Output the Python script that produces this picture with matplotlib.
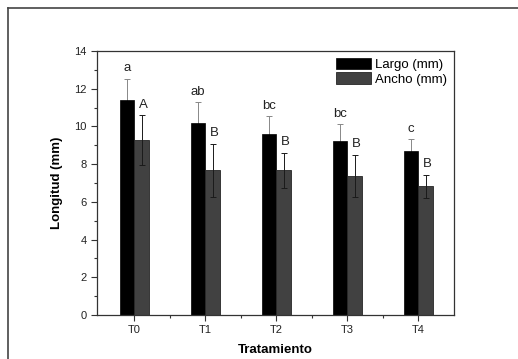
import matplotlib
matplotlib.use("Agg")
import matplotlib.pyplot as plt
from matplotlib.ticker import MultipleLocator
import numpy as np

# Figure size in inches (100 dpi -> 518x359 px)
PLOT_SIZE_X = 5.18
PLOT_SIZE_Y = 3.59

plt.rcParams['font.family'] = ['Liberation Sans', 'DejaVu Sans']

# Data
treatments = ["T0", "T1", "T2", "T3", "T4"]
largo_mm = [11.38, 10.16, 9.62, 9.23, 8.71]
largo_err = [1.15, 1.12, 0.92, 0.88, 0.61]
ancho_mm = [9.28, 7.68, 7.67, 7.38, 6.82]
ancho_err = [1.31, 1.40, 0.92, 1.13, 0.62]
largo_letters = ["a", "ab", "bc", "bc", "c"]
ancho_letters = ["A", "B", "B", "B", "B"]

BAR_W = 0.205
AXIS_COLOR = '#333333'

fig = plt.figure(figsize=(PLOT_SIZE_X, PLOT_SIZE_Y), dpi=100)
ax = fig.add_axes([0.187, 0.1226, 0.689, 0.7354])

x = np.arange(len(treatments))

# Largo bars (black) and Ancho bars (dark grey)
ax.bar(x - BAR_W / 2, largo_mm, BAR_W, color='black', edgecolor='black',
       linewidth=0.5, label="Largo (mm)", zorder=2)
ax.bar(x + BAR_W / 2, ancho_mm, BAR_W, color='#414141', edgecolor='#262626',
       linewidth=0.6, label="Ancho (mm)", zorder=2)

# error bars (Largo ones sit behind the black bars, only the upper part shows)
ax.errorbar(x - BAR_W / 2, largo_mm, yerr=largo_err, fmt='none',
            ecolor='#888888', elinewidth=0.7, capsize=2.3, capthick=0.7, zorder=1)
ax.errorbar(x + BAR_W / 2, ancho_mm, yerr=ancho_err, fmt='none',
            ecolor='#1a1a1a', elinewidth=0.7, capsize=2.3, capthick=0.7, zorder=3)

# significance letters
for i in range(len(treatments)):
    ax.text(x[i] - BAR_W / 2, largo_mm[i] + largo_err[i] + 0.25, largo_letters[i],
            ha='center', va='bottom', fontsize=9.5, color='#222222')
    ax.text(x[i] + BAR_W / 2 + 0.02, ancho_mm[i] + ancho_err[i] + 0.25, ancho_letters[i],
            ha='center', va='bottom', fontsize=9.5, color='#222222')

ax.set_xlim(-0.53, 4.5)
ax.set_ylim(0, 14)
ax.set_xticks(x)
ax.set_xticklabels(treatments)
ax.set_xticks(x[:-1] + 0.5, minor=True)
ax.yaxis.set_major_locator(MultipleLocator(2))
ax.yaxis.set_minor_locator(MultipleLocator(1))

ax.tick_params(which='major', direction='out', length=4, width=0.8,
               colors=AXIS_COLOR, labelsize=8, labelcolor='#222222')
ax.tick_params(which='minor', direction='out', length=2.5, width=0.8,
               colors=AXIS_COLOR)
ax.tick_params(axis='x', which='major', pad=3)

for s in ax.spines.values():
    s.set_color(AXIS_COLOR)
    s.set_linewidth(0.9)

ax.set_xlabel("Tratamiento", fontsize=9.5, fontweight='bold', labelpad=7)
ax.set_ylabel("Longitud (mm)", fontsize=9.5, fontweight='bold', labelpad=8)

ax.legend(loc='upper right', fontsize=9.5, frameon=False,
          handlelength=2.7, handleheight=1.0, handletextpad=0.3,
          labelspacing=0.1, borderaxespad=0.3, borderpad=0.2)

# outer frame of the original picture
fig.add_artist(plt.Line2D([0.0155, 0.0155], [0.0, 0.978], color='#444444',
                          linewidth=1.2, transform=fig.transFigure))
fig.add_artist(plt.Line2D([0.0155, 1.0], [0.978, 0.978], color='#444444',
                          linewidth=1.2, transform=fig.transFigure))

plt.savefig("out.png", dpi=100)
